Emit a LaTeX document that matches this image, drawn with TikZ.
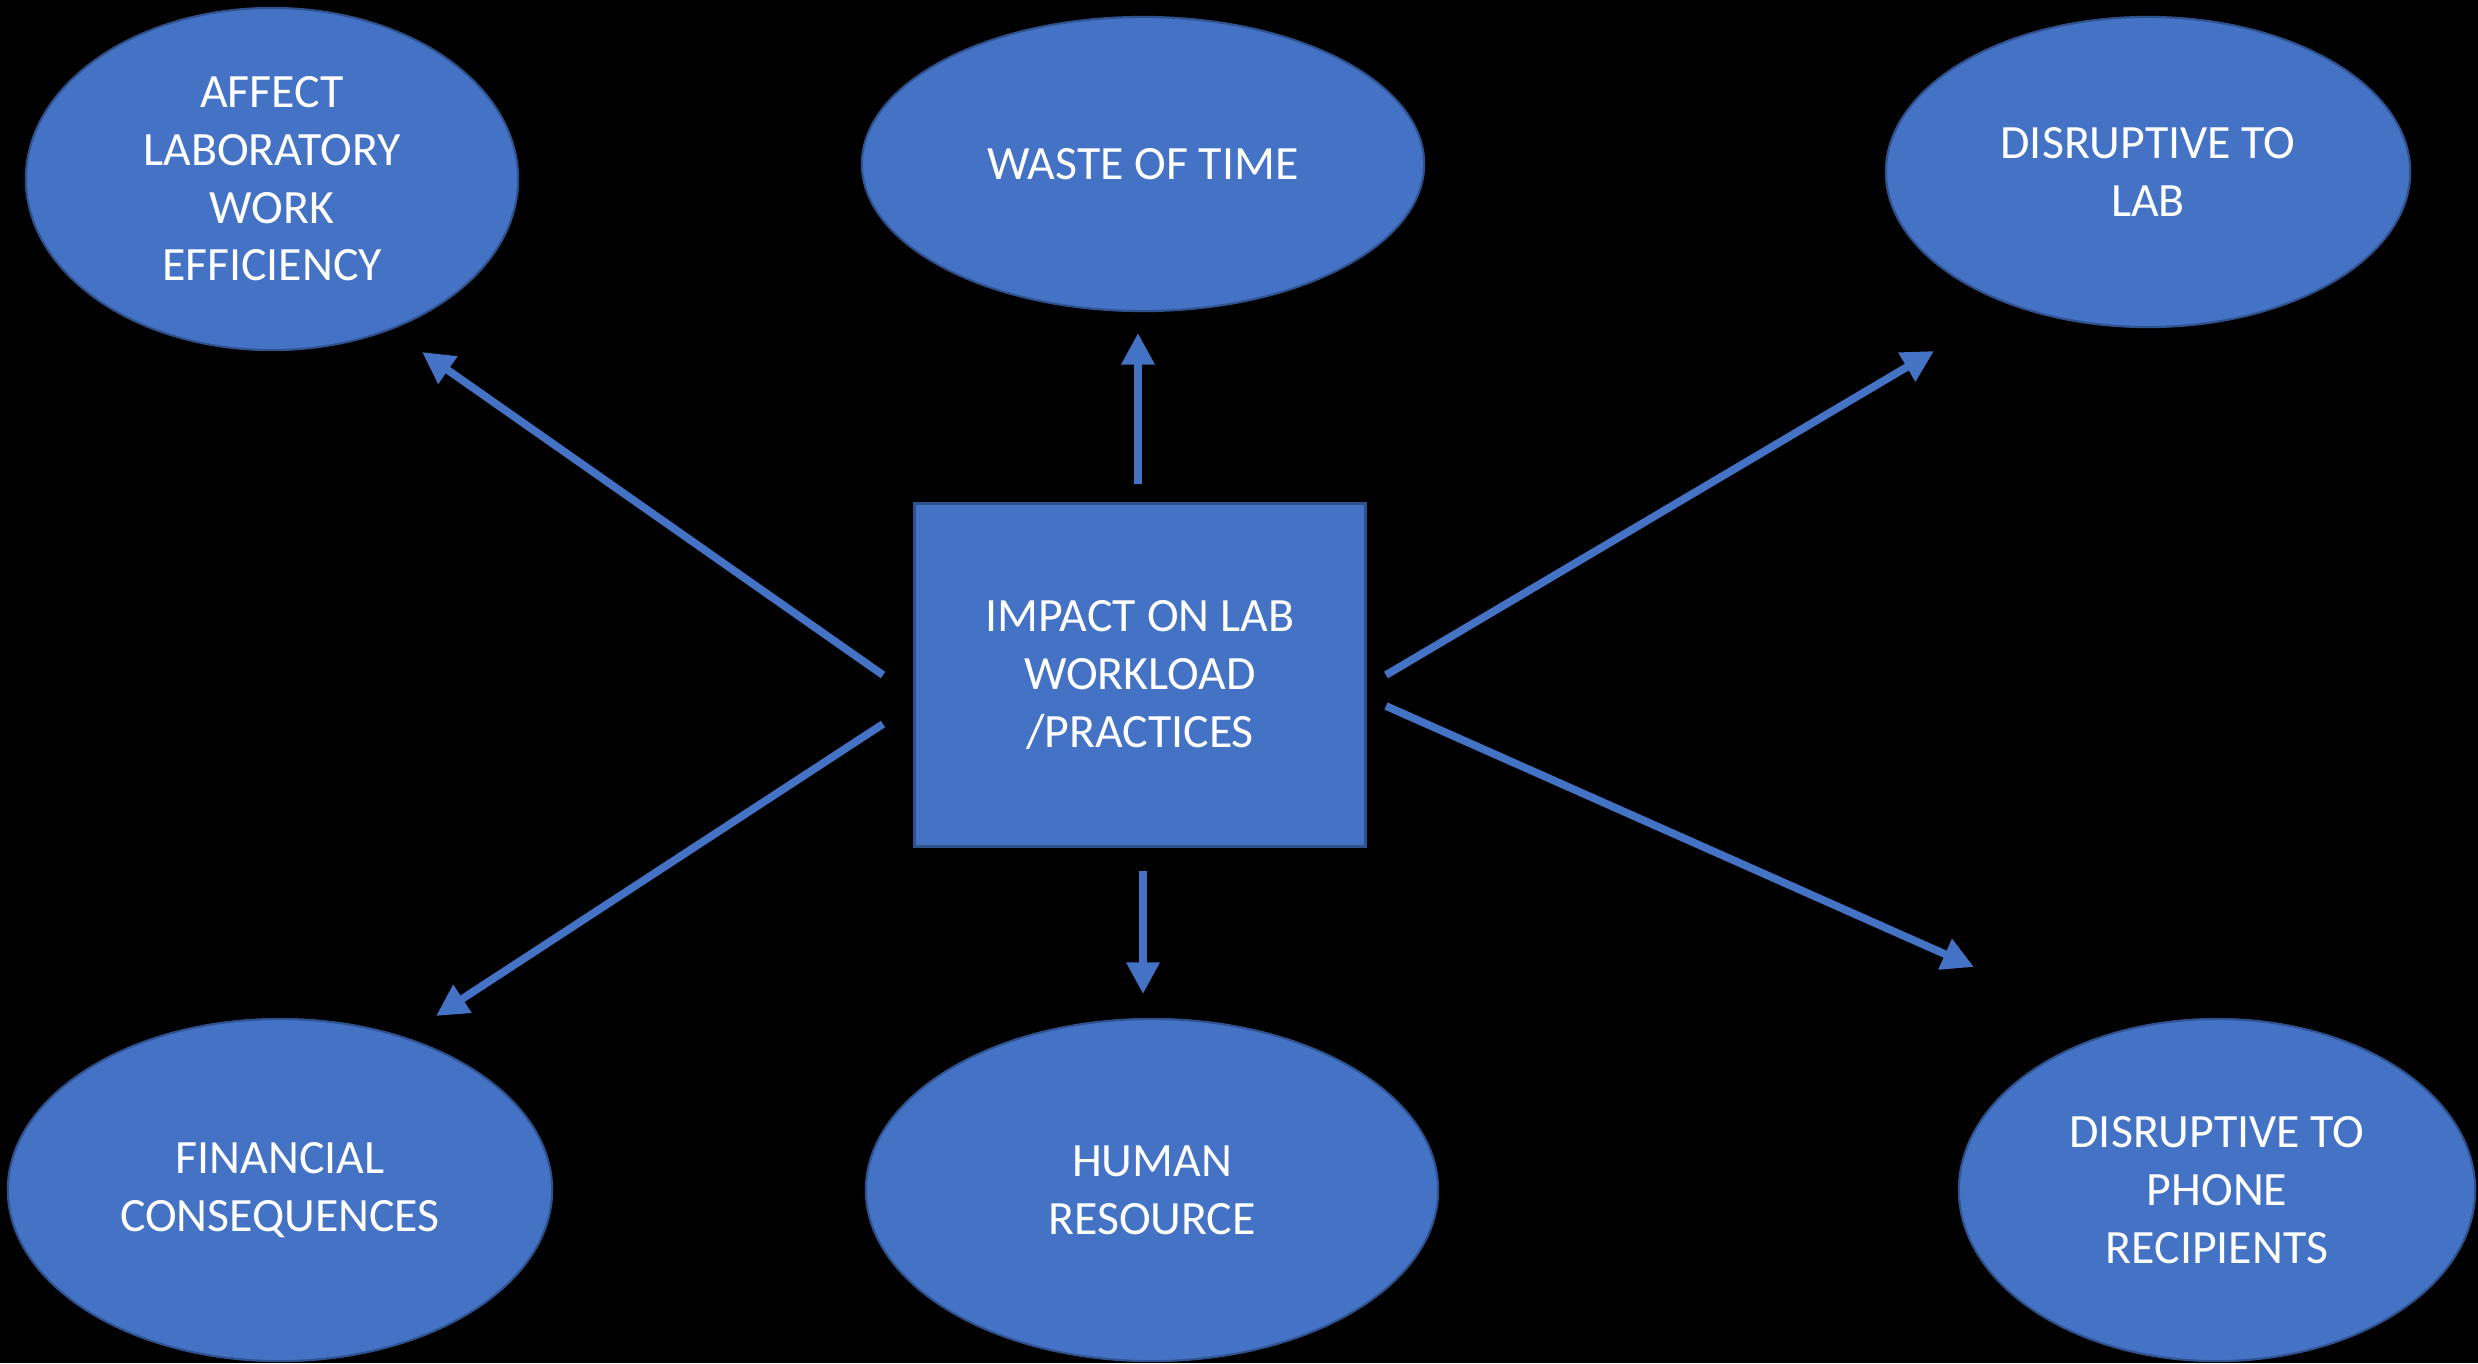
\documentclass[tikz,border=0pt]{standalone}
\usepackage{fontspec}
\setmainfont{Carlito}
\usetikzlibrary{shapes.geometric,arrows.meta}

\definecolor{officeblue}{HTML}{4472C4}
\definecolor{officeline}{HTML}{2F528F}

\tikzset{
	bubble/.style={ellipse, fill=officeblue, draw=officeline, line width=0.6pt, inner sep=0pt,
		text=white, align=center, font=\fontsize{13.6}{16.4}\selectfont},
	centrebox/.style={rectangle, fill=officeblue, draw=officeline, line width=0.8pt, inner sep=0pt,
		text=white, align=center, font=\fontsize{13.6}{16.4}\selectfont,
		minimum width=4.5cm, minimum height=3.43cm},
	impactarrow/.style={draw=officeblue, line width=2.2pt, -{Triangle[length=9pt,width=9pt]}}
}

\begin{document}
\begin{tikzpicture}[x=0.01cm,y=-0.01cm]
	\fill[black] (0,0) rectangle (2478,1363);
	\useasboundingbox (0,0) rectangle (2478,1363);
	% centre box
	\node[centrebox] (impact) at (1140,675) {IMPACT ON LAB\\WORKLOAD\\/PRACTICES};
	% outcomes
	\node[bubble, minimum width=4.92cm, minimum height=3.42cm] (affect) at (272,179) {AFFECT\\LABORATORY\\WORK\\EFFICIENCY};
	\node[bubble, minimum width=5.62cm, minimum height=2.94cm] (waste) at (1143,164) {WASTE OF TIME};
	\node[bubble, minimum width=5.24cm, minimum height=3.10cm] (lab) at (2148,172) {DISRUPTIVE TO\\LAB};
	\node[bubble, minimum width=5.44cm, minimum height=3.42cm] (finance) at (280,1190) {FINANCIAL\\CONSEQUENCES};
	\node[bubble, minimum width=5.72cm, minimum height=3.42cm] (human) at (1152,1190) {HUMAN\\RESOURCE};
	\node[bubble, minimum width=5.16cm, minimum height=3.42cm] (phone) at (2217,1190) {DISRUPTIVE TO\\PHONE\\RECIPIENTS};
	% arrow ends
	\coordinate (s1) at (883,675);  \coordinate (e1) at (422,352);
	\coordinate (s2) at (1138,484); \coordinate (e2) at (1138,333);
	\coordinate (s3) at (1386,675); \coordinate (e3) at (1934,351);
	\coordinate (s4) at (883,724);  \coordinate (e4) at (436,1016);
	\coordinate (s5) at (1143,871); \coordinate (e5) at (1143,994);
	\coordinate (s6) at (1386,706); \coordinate (e6) at (1974,967);
	\foreach \i in {1,...,6} {
		\draw[impactarrow] (s\i) -- (e\i);
	}
\end{tikzpicture}
\end{document}
